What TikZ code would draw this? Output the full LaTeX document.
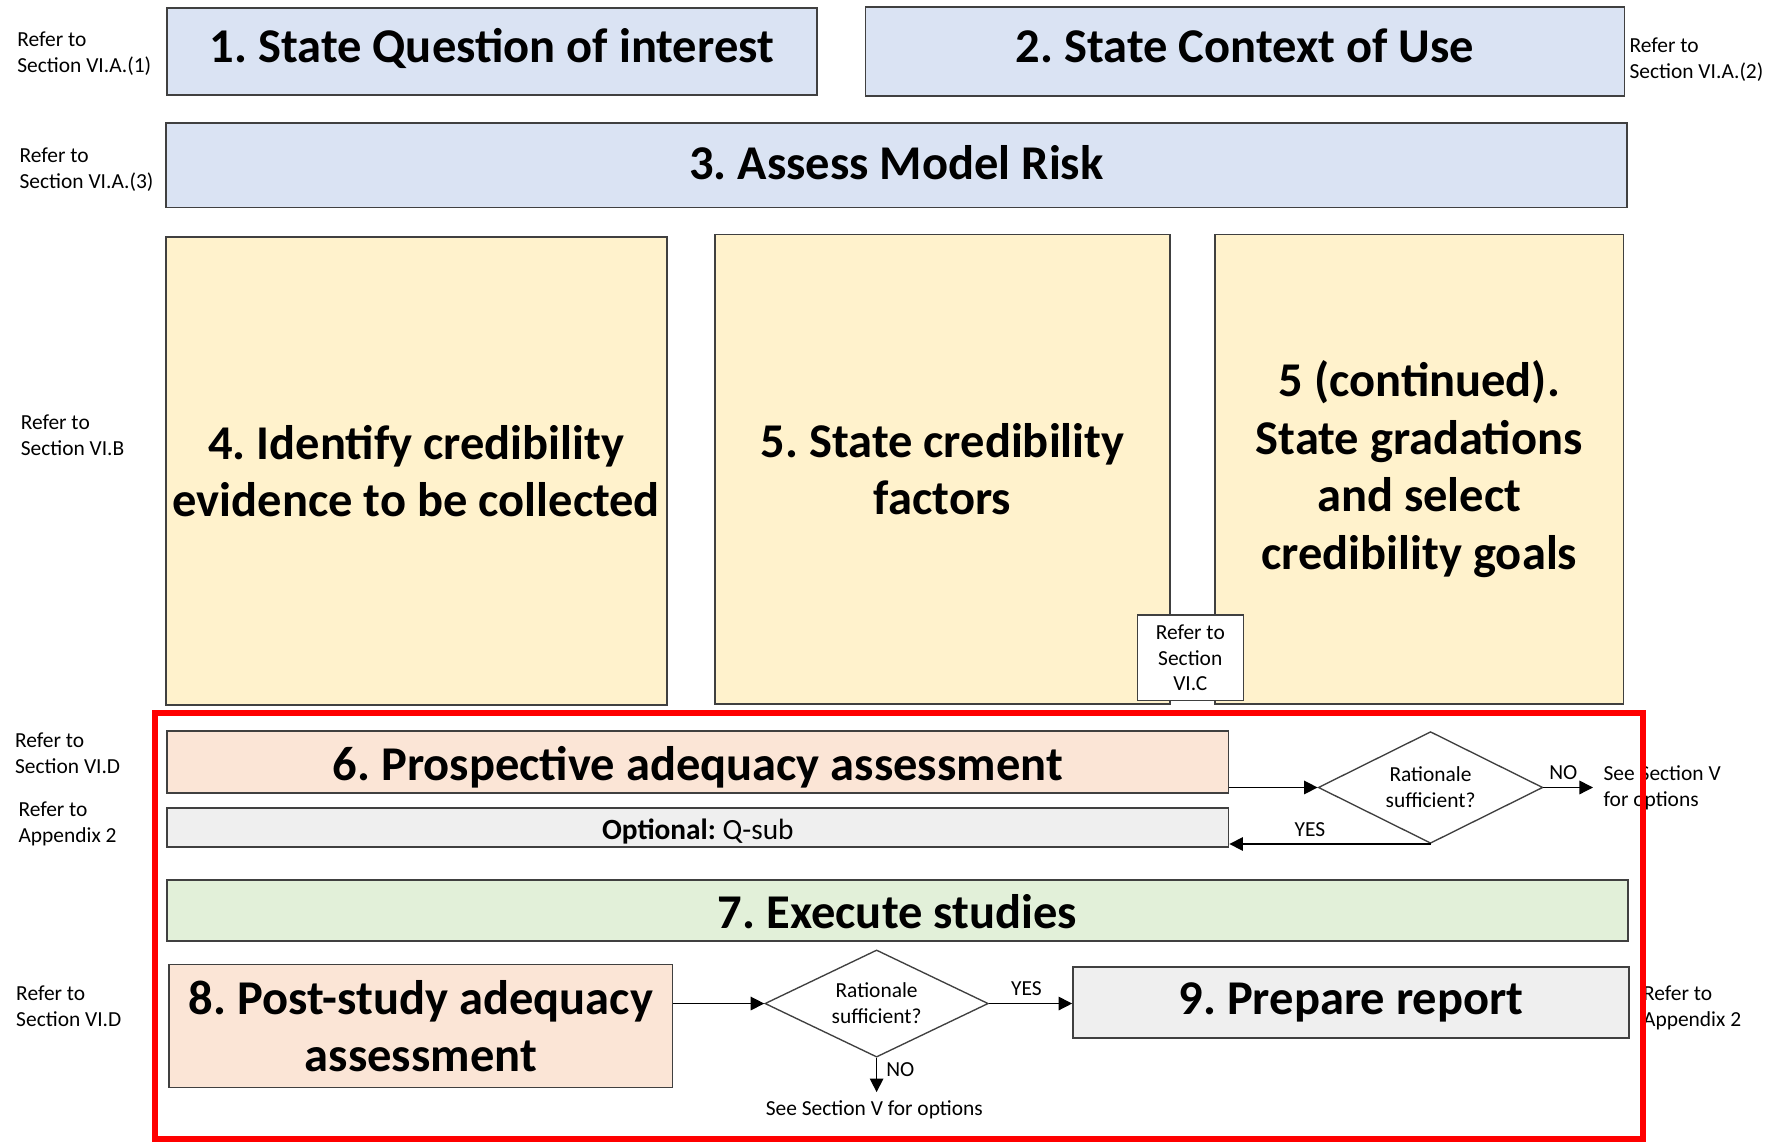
\documentclass[tikz,border=0pt]{standalone}
\usepackage{fontspec}
\setmainfont{Carlito}
\usetikzlibrary{arrows.meta,shapes.geometric,calc}
\frenchspacing

\definecolor{fillblue}{HTML}{DAE3F3}
\definecolor{fillyellow}{HTML}{FFF2CC}
\definecolor{fillsalmon}{HTML}{FBE5D6}
\definecolor{fillgreen}{HTML}{E2F0D9}
\definecolor{fillgray}{HTML}{EFEFEF}
\definecolor{edgegray}{HTML}{404040}

\newcommand\stepfont{\fontsize{21.5}{25.5}\selectfont\bfseries}
\newcommand\notefont{\fontsize{9.5}{11.5}\selectfont}
\newcommand\optfont{\fontsize{13}{15}\selectfont}
% single-line caption whose baseline sits #1 above the box centre
\newcommand\lift[2]{\raisebox{#1}[0pt][0pt]{#2}}

\begin{document}
\begin{tikzpicture}[x=0.5pt,y=-0.5pt,
  stepbox/.style={draw=edgegray, line width=0.7pt, inner sep=0pt, align=center, font=\stepfont},
  note/.style={inner sep=0pt, align=left, font=\notefont},
  decision/.style={draw=edgegray, line width=0.6pt, diamond, aspect=2, inner sep=0pt,
    align=center, font=\notefont},
  arr/.style={draw=black, line width=0.6pt, -{Triangle[length=6pt,width=6pt]}},
  flag/.style={inner sep=1pt, font=\notefont}
]
\useasboundingbox (0,0) rectangle (1568,1012);

% upper steps
\node[stepbox, fill=fillblue, minimum width=288pt, minimum height=38.5pt] (q1) at (436,45.5) {\lift{-4.9pt}{1. State Question of interest}};
\node[stepbox, fill=fillblue, minimum width=336.5pt, minimum height=39.5pt] (q2) at (1103.5,45.5) {\lift{-5.1pt}{2. State Context of Use}};
\node[stepbox, fill=fillblue, minimum width=647.5pt, minimum height=37.5pt] (q3) at (794.5,146.5) {\lift{-6.3pt}{3. Assess Model Risk}};
\node[stepbox, fill=fillyellow, minimum width=222pt, minimum height=207.5pt] (q4) at (369,417.5) {4. Identify credibility\\evidence to be collected};
\node[stepbox, fill=fillyellow, minimum width=201.5pt, minimum height=208pt] (q5) at (835.5,416) {5. State credibility\\factors};
\node[stepbox, fill=fillyellow, minimum width=181pt, minimum height=208pt] (q5c) at (1258,416) {5 (continued).\\State gradations\\and select\\credibility goals};
\node[draw=edgegray, line width=0.6pt, fill=white, inner sep=0pt, align=center, font=\notefont,
  minimum width=47pt, minimum height=38pt] (rc) at (1055,583) {Refer to\\Section\\VI.C};

% side references
\node[note, anchor=west] (r1) at (15,47.5) {Refer to\\Section VI.A.(1)};
\node[note, anchor=west] (r2) at (1444,52.5) {Refer to\\Section VI.A.(2)};
\node[note, anchor=west] (r3) at (17,150.5) {Refer to\\Section VI.A.(3)};
\node[note, anchor=west] (r4) at (18,385.5) {Refer to\\Section VI.B};
\node[note, anchor=west] (r6) at (13,667.5) {Refer to\\Section VI.D};
\node[note, anchor=west] (ra) at (16,730.5) {Refer to\\Appendix 2};
\node[note, anchor=west] (r8) at (14,891.5) {Refer to\\Section VI.D};
\node[note, anchor=west] (r9) at (1456,893.5) {Refer to\\Appendix 2};

% lower steps
\node[stepbox, fill=fillsalmon, minimum width=470.5pt, minimum height=27.5pt] (q6) at (618.5,675.5) {\lift{-8pt}{6. Prospective adequacy assessment}};
\node[stepbox, fill=fillgray, font=\optfont, minimum width=470.5pt, minimum height=17.5pt] (qs) at (618.5,733.5) {\lift{-5.3pt}{\textbf{Optional:} Q-sub}};
\node[decision, minimum width=99.5pt, minimum height=49.5pt] (d1) at (1268,698) {Rationale\\sufficient?};
\node[stepbox, fill=fillgreen, minimum width=647.5pt, minimum height=27pt] (q7) at (795.5,807) {\lift{-7.9pt}{7. Execute studies}};
\node[stepbox, fill=fillsalmon, minimum width=223pt, minimum height=54.5pt] (q8) at (373,909.5) {8. Post-study adequacy\\assessment};
\node[decision, minimum width=99pt, minimum height=47.5pt] (d2) at (777,889.5) {Rationale\\sufficient?};
\node[stepbox, fill=fillgray, minimum width=246.5pt, minimum height=31.5pt] (q9) at (1197.5,888.5) {\lift{-5.5pt}{9. Prepare report}};

\node[note, anchor=west] (s1) at (1421,698) {See Section V\\for options};
\node[note] (s2) at (775,984) {See Section V for options};
\coordinate (n1) at (1412,698);
\coordinate (n2) at (777,968);

% connectors
\draw[arr] (q6.east |- d1.west) -- (d1.west);
\draw[arr] (d1.east) -- (n1) node[flag, pos=0.4, above=2pt] {NO};
\draw[arr] (d1.south) -- (d1.south -| qs.east) node[flag, pos=0.6, above=2pt] {YES};
\draw[arr] (q8.east |- d2.west) -- (d2.west);
\draw[arr] (d2.east) -- (q9.west |- d2.east) node[flag, pos=0.45, above=2pt] {YES};
\draw[arr] (d2.south) -- (n2) node[flag, pos=0.35, right=3pt] {NO};

% frame around the adequacy loop
\draw[red, line width=2.5pt] (137.5,632) rectangle (1456.5,1009.5);
\end{tikzpicture}
\end{document}
